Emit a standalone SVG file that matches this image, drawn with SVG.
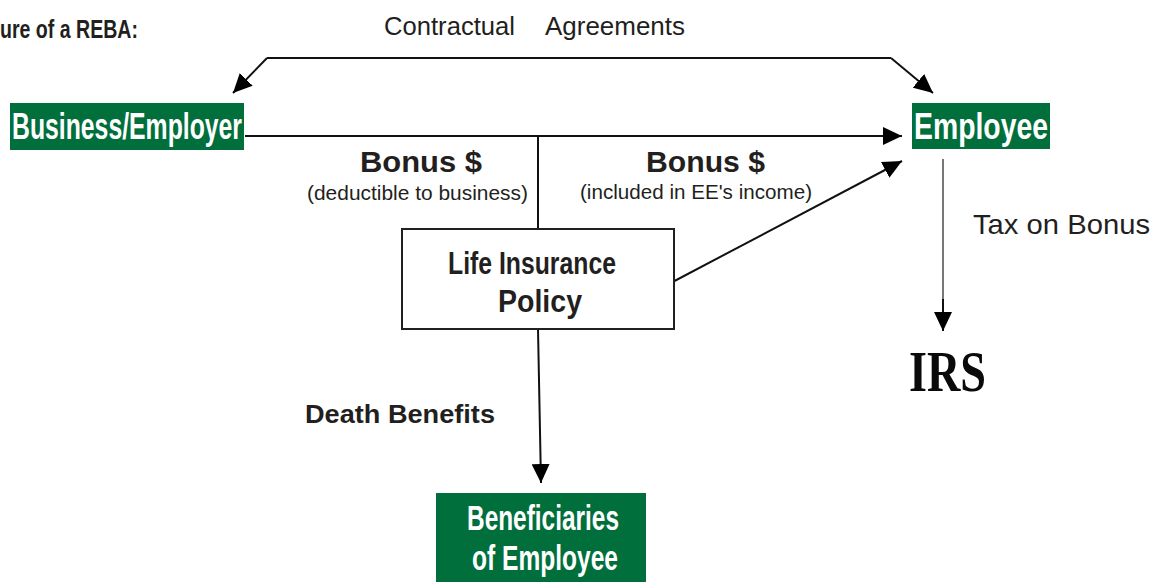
<svg xmlns="http://www.w3.org/2000/svg" width="1156" height="582" viewBox="0 0 1156 582">
  <style>
    .lbl { font-family: "Liberation Sans", Arial, sans-serif; fill: #231f20; }
    .bold { font-weight: bold; }
    .green { fill: #006f3c; }
    .wtxt { font-family: "Liberation Sans", Arial, sans-serif; font-weight: bold; fill: #ffffff; }
    .edge { stroke: #111; stroke-width: 2; fill: none; }
    .gray { stroke: #777; stroke-width: 2; fill: none; }
  </style>
  <defs>
    <marker id="arrow" markerUnits="userSpaceOnUse" markerWidth="20" markerHeight="18" refX="19" refY="9" orient="auto">
      <path d="M0,0 L19,9 L0,18 Z" fill="#000"/>
    </marker>
  </defs>
  <rect width="1156" height="582" fill="#ffffff"/>

  <!-- heading and free labels -->
  <text class="lbl bold" x="0" y="38" font-size="25" textLength="138" lengthAdjust="spacingAndGlyphs">ure of a REBA:</text>
  <text class="lbl" x="384" y="35" font-size="25" textLength="131" lengthAdjust="spacingAndGlyphs">Contractual</text>
  <text class="lbl" x="545" y="35" font-size="25" textLength="140" lengthAdjust="spacingAndGlyphs">Agreements</text>
  <text class="lbl bold" x="360" y="172" font-size="29" textLength="122" lengthAdjust="spacingAndGlyphs">Bonus $</text>
  <text class="lbl" x="307" y="200" font-size="21" textLength="221" lengthAdjust="spacingAndGlyphs">(deductible to business)</text>
  <text class="lbl bold" x="646" y="172" font-size="29" textLength="119" lengthAdjust="spacingAndGlyphs">Bonus $</text>
  <text class="lbl" x="580" y="199" font-size="21" textLength="232" lengthAdjust="spacingAndGlyphs">(included  in EE's income)</text>
  <text class="lbl" x="973" y="234" font-size="28" textLength="177" lengthAdjust="spacingAndGlyphs">Tax on Bonus</text>
  <text class="lbl bold" x="305" y="423" font-size="25" textLength="190" lengthAdjust="spacingAndGlyphs">Death Benefits</text>

  <!-- connectors -->
  <g id="connectors">
    <polyline class="edge" points="267,58 891,58"/>
    <line class="edge" x1="267" y1="58" x2="233" y2="93" marker-end="url(#arrow)"/>
    <line class="edge" x1="891" y1="58" x2="933" y2="93" marker-end="url(#arrow)"/>
    <line class="edge" x1="245" y1="136" x2="902" y2="136" marker-end="url(#arrow)"/>
    <line class="edge" x1="538" y1="136" x2="538" y2="229"/>
    <line class="edge" x1="665" y1="286" x2="902" y2="161" marker-end="url(#arrow)"/>
    <line class="edge" x1="538" y1="329" x2="541" y2="483" marker-end="url(#arrow)"/>
    <line class="gray" x1="943" y1="159" x2="943" y2="300"/>
    <line class="edge" x1="943" y1="299" x2="943" y2="331" marker-end="url(#arrow)"/>
  </g>

  <!-- nodes -->
  <g id="business-employer">
    <rect class="green" x="10" y="103" width="234" height="47"/>
    <text class="wtxt" x="12" y="139" font-size="37" textLength="230" lengthAdjust="spacingAndGlyphs">Business/Employer</text>
  </g>
  <g id="employee">
    <rect class="green" x="912" y="103" width="138" height="46"/>
    <text class="wtxt" x="914" y="139" font-size="37" textLength="134" lengthAdjust="spacingAndGlyphs">Employee</text>
  </g>
  <g id="life-insurance-policy">
    <rect x="402" y="229" width="272" height="100" fill="#ffffff" stroke="#231f20" stroke-width="2"/>
    <text class="lbl bold" x="448" y="274" font-size="31" textLength="168" lengthAdjust="spacingAndGlyphs">Life Insurance</text>
    <text class="lbl bold" x="498" y="312" font-size="31" textLength="84" lengthAdjust="spacingAndGlyphs">Policy</text>
  </g>
  <g id="beneficiaries">
    <rect class="green" x="436" y="493" width="210" height="95"/>
    <text class="wtxt" x="467" y="530" font-size="35" textLength="152" lengthAdjust="spacingAndGlyphs">Beneficiaries</text>
    <text class="wtxt" x="472" y="570" font-size="35" textLength="146" lengthAdjust="spacingAndGlyphs">of Employee</text>
  </g>
  <g id="irs">
    <text x="909" y="391" font-family="'Liberation Serif', 'Times New Roman', serif" font-weight="bold" font-size="57" fill="#0a0a0a" textLength="77" lengthAdjust="spacingAndGlyphs">IRS</text>
  </g>
</svg>
